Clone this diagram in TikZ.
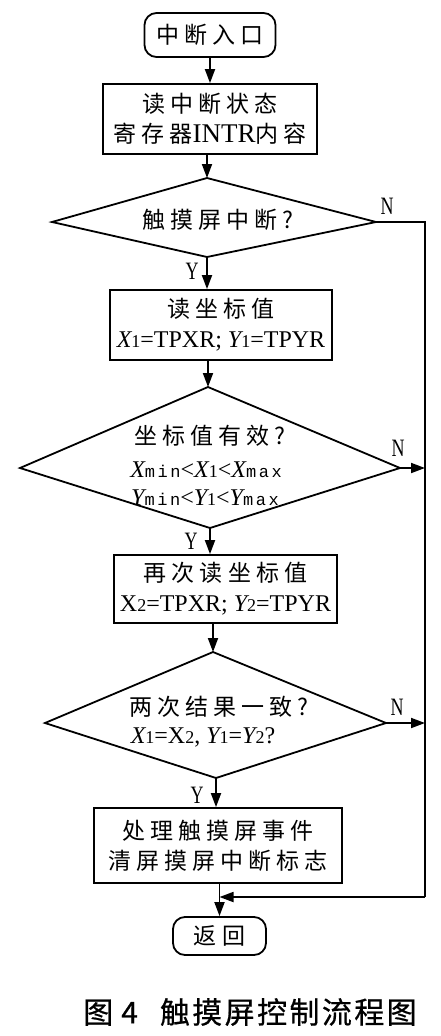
\documentclass[tikz,border=0pt]{standalone}
\usepackage{fontspec}
\setmainfont{Liberation Serif}
\newfontfamily\cjk[LetterSpace=22]{Noto Sans CJK SC}
\newfontfamily\cjkcap[LetterSpace=8,FakeBold=0.6]{Noto Sans CJK SC}
\newfontfamily\narrowf[FakeStretch=0.72]{Liberation Serif}
\newfontfamily\monof[LetterSpace=15]{Liberation Mono}
\usetikzlibrary{arrows.meta}
\newcommand\itX{{\itshape X}}
\newcommand\itY{{\itshape Y}}
\newcommand\mysub[1]{{\fontsize{18}{18}\selectfont #1}}
\newcommand\mymin{{\monof\fontsize{17}{17}\selectfont min}}
\newcommand\mymax{{\monof\fontsize{17}{17}\selectfont max}}
\tikzset{
  base/.style={draw, line width=1.8pt, inner sep=0pt, align=center, font=\fontsize{23}{30}\selectfont},
  term/.style={base, rounded corners=12pt},
  proc/.style={base},
  lbl/.style={inner sep=0pt, font=\narrowf\fontsize{25}{25}\selectfont},
  txt/.style={inner sep=0pt, align=center, font=\fontsize{23}{30}\selectfont},
  line/.style={line width=1.8pt, line join=miter},
  arr/.style={line width=1.8pt, -{Triangle[length=14pt,width=10pt]}}
}
\begin{document}
\begin{tikzpicture}[x=1pt,y=-1pt]
\useasboundingbox[fill=white] (0,0) rectangle (440,1036);

% terminals and boxes
\node[term, minimum width=131pt, minimum height=44pt] (start) at (210,35) {{\cjk 中断入口}};
\node[proc, minimum width=214pt, minimum height=70pt] (box1) at (210,119)
  {{\cjk 读中断状态}\\{\cjk 寄存器}{\fontsize{27}{30}\selectfont INTR}{\cjk 内容}};
\node[proc, minimum width=222pt, minimum height=70pt] (box2) at (221,325)
  {{\cjk 读坐标值}\\{\fontsize{24}{30}\selectfont \itX\mysub{1}=TPXR; \itY\mysub{1}=TPYR}};
\node[proc, minimum width=223pt, minimum height=68pt] (box3) at (225.5,589)
  {{\cjk 再次读坐标值}\\{\fontsize{24}{30}\selectfont X\mysub{2}=TPXR; \itY\mysub{2}=TPYR}};
\node[proc, minimum width=248pt, minimum height=75pt] (box4) at (218,845.5)
  {{\cjk 处理触摸屏事件}\\{\cjk 清屏摸屏中断标志}};
\node[term, minimum width=93pt, minimum height=38pt] (ret) at (219.5,936) {{\cjk 返回}};

% decision kites
\coordinate (d1t) at (207,178);
\coordinate (d1r) at (376,222);
\coordinate (d1b) at (207,257);
\coordinate (d1l) at (52,222);
\draw[line] (d1t) -- (d1r) -- (d1b) -- (d1l) -- cycle;
\node[txt] (d1txt) at (218,220) {{\cjk 触摸屏中断?}};

\coordinate (d2t) at (208,387);
\coordinate (d2r) at (400,468);
\coordinate (d2b) at (210,528);
\coordinate (d2l) at (20,468);
\draw[line] (d2t) -- (d2r) -- (d2b) -- (d2l) -- cycle;
\node[txt] (d2a) at (210,436) {{\cjk 坐标值有效?}};
\node[txt, font=\fontsize{24}{24}\selectfont] (d2b1) at (206,470) {\itX\mymin{<}\itX\mysub{1}{<}\itX\mymax};
\node[txt, font=\fontsize{24}{24}\selectfont] (d2c) at (205,498) {\itY\mymin{<}\itY\mysub{1}{<}\itY\mymax};

\coordinate (d3t) at (213,652);
\coordinate (d3r) at (386,723);
\coordinate (d3b) at (216,778);
\coordinate (d3l) at (45,723);
\draw[line] (d3t) -- (d3r) -- (d3b) -- (d3l) -- cycle;
\node[txt] (d3a) at (219,707) {{\cjk 两次结果一致?}};
\node[txt, font=\fontsize{24}{24}\selectfont] (d3c) at (203,737) {\itX\mysub{1}=X\mysub{2}, \itY\mysub{1}=\itY\mysub{2}?};

% labels
\node[lbl] (n1) at (387,206) {N};
\node[lbl] (n2) at (398,448) {N};
\node[lbl] (n3) at (397,707) {N};
\node[lbl] (y1) at (192,271) {Y};
\node[lbl] (y2) at (191,541) {Y};
\node[lbl] (y3) at (197,795) {Y};

% connectors
\coordinate (rtop) at (425,222);
\coordinate (jn) at (425,897);
\draw[arr] (start.south) -- (box1.north);
\draw[arr] (box1.south -| d1t) -- (d1t);
\draw[arr] (d1b) -- (d1b |- box2.north);
\draw[arr] (box2.south -| d2t) -- (d2t);
\draw[arr] (d2b) -- (d2b |- box3.north);
\draw[arr] (box3.south -| d3t) -- (d3t);
\draw[arr] (d3b) -- (d3b |- box4.north);
\draw[arr] (ret.north |- box4.south) -- (ret.north);
\draw[line] (d1r) -- (rtop) -- (jn);
\draw[arr] (jn) -- (ret.north |- jn);
\draw[arr] (d2r) -- (d2r -| jn);
\draw[arr] (d3r) -- (d3r -| jn);

% caption
\node[inner sep=0pt, font=\cjkcap\fontsize{30}{30}\selectfont] (cap) at (250,1012) {图\hspace{8pt}4\hspace{22pt}触摸屏控制流程图};
\end{tikzpicture}
\end{document}
